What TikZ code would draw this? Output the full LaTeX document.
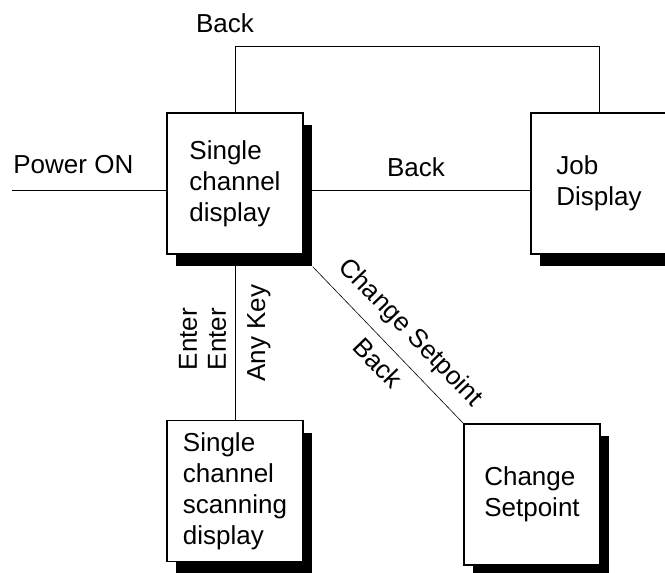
\documentclass[tikz,border=0pt]{standalone}
\usepackage{fontspec}
\setmainfont{Liberation Sans}
\usetikzlibrary{shadows}
\tikzset{
  screen/.style={draw, line width=0.65pt, fill=white, align=left,
    minimum width=68pt, minimum height=70.5pt, inner sep=0pt,
    drop shadow={shadow xshift=4.5pt, shadow yshift=-6pt, fill=black, opacity=1}},
  link/.style={line width=0.5pt},
  slant/.style={line width=0.3pt},
  tag/.style={inner sep=0pt}
}
\begin{document}
\begin{tikzpicture}[x=0.5pt, y=-0.5pt, font=\fontsize{13}{15.5}\selectfont]
                \useasboundingbox (0,0) rectangle (665,573);

                %%screens
                \node[screen] (single) at (235,183.5) {Single\\channel\\display};
                \node[screen] (job) at (599,183.5) {Job\\Display};
                \node[screen] (scan) at (235,491) {Single\\channel\\scanning\\display};
                \node[screen] (change) at (532,494.5) {Change\\Setpoint};

                %%power on
                \coordinate (pwr) at (12,190);
                \draw[link] (pwr) -- (pwr -| single.west);
                    \node[tag, anchor=base west] (pwrtxt) at (13,173) {Power ON};

                %%to and from job display
                \draw[link] (single.north) -- ++(0,-66) -| (job.north);
                    \node[tag] (backtop) at (225,23) {Back};
                \draw[link] (single.east |- pwr) -- (job.west |- pwr);
                    \node[tag] (backmid) at (416,167) {Back};

                %%scanning display
                \draw[link] (single.south) -- (scan.north);
                    \node[tag, rotate=90] (enterone) at (188,339) {Enter};
                    \node[tag, rotate=90] (entertwo) at (217,339) {Enter};
                    \node[tag, rotate=90] (anykey) at (259,333) {Any Key};

                %%change setpoint
                \draw[slant] ([shift={(9,12)}]single.south east) -- (change.north west);
                    \node[tag, rotate=-46] (chgtxt) at (410,333) {Change Setpoint};
                    \node[tag, rotate=-46] (backdiag) at (378,363) {Back};
\end{tikzpicture}
\end{document}
